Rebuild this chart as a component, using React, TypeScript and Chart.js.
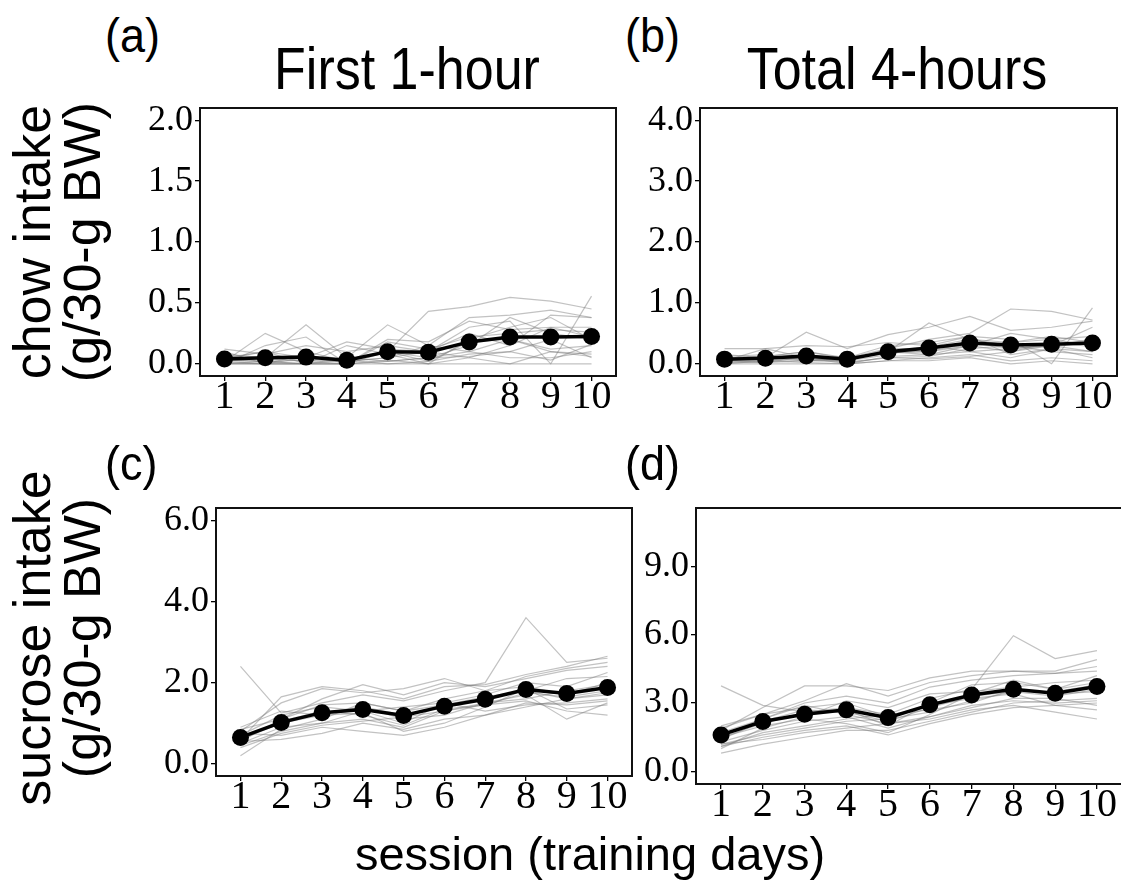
import React, { useEffect, useRef } from "react";
import { Chart, registerables } from "chart.js";

Chart.register(...registerables);

// ---------- data ----------
const SESSIONS = [1, 2, 3, 4, 5, 6, 7, 8, 9, 10];

const A_TICKS = [0, 0.5, 1.0, 1.5, 2.0];
const B_TICKS = [0, 1, 2, 3, 4];
const C_TICKS = [0, 2, 4, 6];
const D_TICKS = [0, 3, 6, 9];

// (a) chow intake, first 1-hour
const A_MEAN = [0.04, 0.05, 0.055, 0.03, 0.1, 0.095, 0.18, 0.22, 0.22, 0.225];
const A_INDIV = [
  [0.05, 0.1, 0.05, 0.02, 0.1, 0.43, 0.47, 0.545, 0.515, 0.45],
  [0.02, 0.25, 0.1, 0.02, 0.05, 0.1, 0.3, 0.35, 0.0, 0.556],
  [0.08, 0.05, 0.32, 0.05, 0.32, 0.15, 0.38, 0.4, 0.44, 0.38],
  [0.03, 0.02, 0.0, 0.15, 0.08, 0.0, 0.2, 0.3, 0.38, 0.2],
  [0.0, 0.15, 0.22, 0.0, 0.2, 0.18, 0.35, 0.28, 0.3, 0.3],
  [0.1, 0.0, 0.05, 0.18, 0.12, 0.1, 0.05, 0.0, 0.1, 0.08],
  [0.05, 0.05, 0.02, 0.0, 0.02, 0.05, 0.15, 0.38, 0.25, 0.2],
  [0.0, 0.0, 0.0, 0.0, 0.0, 0.0, 0.0, 0.0, 0.0, 0.0],
  [0.12, 0.08, 0.15, 0.1, 0.15, 0.1, 0.25, 0.15, 0.3, 0.22],
  [0.02, 0.0, 0.0, 0.05, 0.02, 0.05, 0.1, 0.2, 0.12, 0.15],
  [0.0, 0.02, 0.0, 0.0, 0.1, 0.02, 0.08, 0.1, 0.2, 0.05],
  [0.07, 0.03, 0.05, 0.02, 0.05, 0.15, 0.1, 0.05, 0.05, 0.1],
  [0.01, 0.0, 0.08, 0.0, 0.18, 0.12, 0.22, 0.25, 0.28, 0.26],
  [0.04, 0.1, 0.0, 0.03, 0.0, 0.02, 0.18, 0.2, 0.1, 0.06],
  [0.0, 0.0, 0.0, 0.0, 0.03, 0.0, 0.05, 0.15, 0.4, 0.38],
  [0.03, 0.02, 0.03, 0.02, 0.1, 0.05, 0.06, 0.1, 0.03, 0.16],
];

// (b) chow intake, total 4-hours
const B_MEAN = [0.077, 0.093, 0.13, 0.077, 0.2, 0.26, 0.34, 0.31, 0.32, 0.34];
const B_INDIV = [
  [0.1, 0.12, 0.2, 0.1, 0.25, 0.4, 0.5, 0.9, 0.86, 0.72],
  [0.05, 0.25, 0.1, 0.05, 0.15, 0.3, 0.45, 0.4, 0.0, 0.92],
  [0.15, 0.1, 0.52, 0.25, 0.48, 0.6, 0.78, 0.55, 0.6, 0.7],
  [0.05, 0.05, 0.05, 0.08, 0.2, 0.67, 0.4, 0.35, 0.45, 0.35],
  [0.25, 0.25, 0.3, 0.28, 0.35, 0.3, 0.2, 0.1, 0.25, 0.2],
  [0.02, 0.05, 0.1, 0.0, 0.12, 0.15, 0.3, 0.5, 0.4, 0.3],
  [0.0, 0.0, 0.0, 0.0, 0.05, 0.05, 0.1, 0.0, 0.05, 0.0],
  [0.1, 0.08, 0.15, 0.1, 0.2, 0.2, 0.35, 0.25, 0.3, 0.4],
  [0.08, 0.1, 0.08, 0.05, 0.25, 0.25, 0.3, 0.2, 0.35, 0.28],
  [0.05, 0.02, 0.12, 0.02, 0.1, 0.12, 0.25, 0.3, 0.2, 0.15],
  [0.12, 0.15, 0.05, 0.1, 0.3, 0.35, 0.45, 0.15, 0.25, 0.1],
  [0.0, 0.05, 0.02, 0.0, 0.05, 0.1, 0.15, 0.05, 0.1, 0.05],
  [0.1, 0.12, 0.2, 0.08, 0.18, 0.2, 0.3, 0.35, 0.4, 0.45],
  [0.06, 0.1, 0.15, 0.05, 0.22, 0.28, 0.4, 0.3, 0.28, 0.35],
  [0.03, 0.02, 0.05, 0.03, 0.1, 0.08, 0.12, 0.2, 0.3, 0.6],
  [0.08, 0.1, 0.05, 0.07, 0.2, 0.15, 0.2, 0.25, 0.3, 0.2],
];

// (c) sucrose intake, first 1-hour
const C_MEAN = [0.65, 1.02, 1.26, 1.34, 1.19, 1.42, 1.59, 1.83, 1.73, 1.88];
const C_INDIV = [
  [2.4, 1.25, 1.5, 1.7, 1.55, 1.8, 2.0, 3.6, 2.5, 2.6],
  [0.6, 1.65, 1.9, 1.8, 1.6, 1.9, 1.95, 2.2, 2.4, 2.65],
  [0.8, 1.5, 1.85, 1.75, 1.85, 2.1, 1.8, 2.15, 2.35, 2.5],
  [0.55, 1.1, 1.6, 1.95, 1.7, 2.0, 1.9, 2.1, 2.3, 2.4],
  [0.7, 1.2, 1.4, 1.3, 1.0, 1.5, 1.7, 2.0, 1.9, 2.25],
  [0.2, 0.85, 1.1, 1.5, 1.3, 1.6, 1.8, 1.9, 1.7, 2.0],
  [0.5, 0.9, 1.0, 1.1, 0.9, 1.3, 1.5, 1.6, 1.8, 1.95],
  [0.65, 1.0, 1.25, 1.4, 1.2, 1.4, 1.6, 1.8, 2.1, 2.15],
  [0.75, 0.7, 0.9, 0.8, 0.7, 0.9, 1.2, 1.5, 1.45, 1.55],
  [0.55, 0.6, 0.75, 1.0, 0.85, 1.1, 1.2, 1.4, 1.6, 1.75],
  [0.9, 1.3, 1.2, 1.4, 1.1, 1.2, 1.5, 1.7, 1.1, 1.5],
  [0.6, 1.05, 1.3, 1.2, 0.95, 1.35, 1.45, 1.55, 1.3, 1.2],
  [0.45, 0.8, 1.0, 1.3, 1.4, 1.5, 1.3, 1.45, 1.5, 1.6],
  [0.85, 1.1, 1.45, 1.5, 1.3, 1.45, 1.65, 1.8, 1.6, 1.7],
  [0.6, 1.0, 1.2, 1.25, 0.8, 1.0, 1.4, 1.85, 1.35, 1.45],
  [0.4, 0.75, 0.95, 1.05, 1.15, 1.3, 1.45, 1.75, 1.65, 1.8],
];

// (d) sucrose intake, total 4-hours
const D_MEAN = [1.6, 2.19, 2.51, 2.7, 2.36, 2.92, 3.35, 3.6, 3.43, 3.72];
const D_INDIV = [
  [3.75, 2.9, 2.6, 2.8, 2.5, 3.2, 3.6, 5.95, 4.95, 5.3],
  [1.8, 2.8, 3.75, 3.75, 3.55, 4.1, 4.4, 4.4, 4.4, 4.9],
  [2.0, 2.5, 3.1, 3.85, 3.3, 3.9, 4.2, 4.4, 4.3, 4.6],
  [1.6, 2.3, 3.0, 3.3, 3.0, 3.7, 4.0, 4.2, 4.3, 4.4],
  [1.5, 2.1, 2.6, 2.7, 2.0, 3.0, 3.8, 3.9, 3.6, 4.2],
  [1.0, 1.9, 2.4, 3.1, 2.8, 3.4, 3.5, 3.7, 3.9, 4.0],
  [1.2, 1.6, 1.9, 2.2, 2.3, 2.6, 3.1, 3.5, 3.5, 3.8],
  [1.4, 2.2, 2.7, 2.6, 2.2, 2.8, 3.3, 3.5, 3.3, 3.6],
  [0.8, 1.2, 1.5, 1.8, 1.8, 2.2, 2.6, 3.0, 3.1, 3.2],
  [1.1, 1.5, 1.8, 2.0, 1.6, 2.1, 2.5, 2.8, 2.9, 3.0],
  [1.9, 2.5, 2.8, 3.0, 2.4, 2.9, 3.2, 3.4, 2.9, 2.7],
  [1.3, 1.8, 2.2, 2.4, 1.9, 2.4, 2.8, 3.2, 3.2, 2.9],
  [1.7, 2.3, 2.9, 2.5, 2.1, 2.3, 2.7, 2.9, 2.6, 2.3],
  [1.1, 1.7, 2.0, 2.3, 2.5, 2.7, 3.0, 3.6, 3.4, 3.5],
  [1.5, 2.0, 2.3, 2.1, 1.7, 2.5, 3.4, 4.0, 3.6, 3.9],
  [1.2, 1.4, 1.7, 1.9, 2.1, 2.4, 2.9, 3.1, 3.0, 3.1],
];

// ---------- layout ----------
const SANS = '"Liberation Sans", Arial, Helvetica, sans-serif';
const SERIF = '"Liberation Serif", "Times New Roman", serif';

const PAD_L = 90;
const PAD_T = 30;
const PAD_R = 20;
const PAD_B = 56;

type PanelSpec = {
  box: [number, number, number, number];
  yMin: number;
  yMax: number;
  yTicks: number[];
  mean: number[];
  indiv: number[][];
};

const PANELS: PanelSpec[] = [
  { box: [200, 108, 616, 376], yMin: -0.1, yMax: 2.1, yTicks: A_TICKS, mean: A_MEAN, indiv: A_INDIV },
  { box: [700, 108, 1117, 376], yMin: -0.2, yMax: 4.2, yTicks: B_TICKS, mean: B_MEAN, indiv: B_INDIV },
  { box: [216, 508, 632, 776], yMin: -0.3, yMax: 6.3, yTicks: C_TICKS, mean: C_MEAN, indiv: C_INDIV },
  { box: [696, 508, 1122, 784], yMin: -0.55, yMax: 11.55, yTicks: D_TICKS, mean: D_MEAN, indiv: D_INDIV },
];

const boxPlugin = {
  id: "panelBox",
  afterDraw(chart: any) {
    const { ctx, chartArea } = chart;
    ctx.save();
    ctx.strokeStyle = "#111";
    ctx.lineWidth = 2;
    ctx.strokeRect(chartArea.left, chartArea.top, chartArea.right - chartArea.left, chartArea.bottom - chartArea.top);
    ctx.restore();
  },
};

function Panel({ spec }: { spec: PanelSpec }) {
  const ref = useRef<HTMLCanvasElement>(null);
  const [L, T, R, B] = spec.box;
  const w = R - L + PAD_L + PAD_R;
  const h = B - T + PAD_T + PAD_B;

  useEffect(() => {
    if (!ref.current) return;
    const toPts = (arr: number[]) => SESSIONS.map((s, i) => ({ x: s, y: arr[i] }));
    const datasets: any[] = [
      {
        data: toPts(spec.mean),
        borderColor: "#000",
        backgroundColor: "#000",
        borderWidth: 3.5,
        pointRadius: 8.5,
        pointBackgroundColor: "#000",
        pointBorderColor: "#000",
        pointBorderWidth: 0,
        order: 0,
      },
      ...spec.indiv.map((arr) => ({
        data: toPts(arr),
        borderColor: "rgba(120,120,120,0.45)",
        borderWidth: 1.2,
        pointRadius: 0,
        order: 1,
      })),
    ];
    const tickGrid = {
      display: true,
      drawOnChartArea: false,
      drawTicks: true,
      tickLength: 5,
      color: "#000",
      lineWidth: 1.3,
    };
    const chart = new Chart(ref.current, {
      type: "line",
      data: { datasets },
      options: {
        responsive: false,
        animation: false,
        devicePixelRatio: 1,
        events: [],
        layout: { padding: { left: 0, top: PAD_T, right: PAD_R, bottom: 0 } },
        plugins: { legend: { display: false }, tooltip: { enabled: false } },
        scales: {
          x: {
            type: "linear",
            min: 0.4,
            max: 10.6,
            afterBuildTicks: (s: any) => {
              s.ticks = SESSIONS.map((v) => ({ value: v }));
            },
            afterFit: (s: any) => {
              s.height = PAD_B;
            },
            ticks: {
              autoSkip: false,
              maxRotation: 0,
              minRotation: 0,
              padding: -8,
              color: "#000",
              font: { family: SERIF, size: 40 },
              callback: (v: any) => String(v),
            },
            grid: tickGrid,
            border: { display: false },
          },
          y: {
            type: "linear",
            min: spec.yMin,
            max: spec.yMax,
            afterBuildTicks: (s: any) => {
              s.ticks = spec.yTicks.map((v) => ({ value: v }));
            },
            afterFit: (s: any) => {
              s.width = PAD_L;
            },
            ticks: {
              padding: 2,
              color: "#000",
              font: { family: SERIF, size: 36 },
              callback: (v: any) => Number(v).toFixed(1),
            },
            grid: tickGrid,
            border: { display: false },
          },
        },
      } as any,
      plugins: [boxPlugin],
    });
    return () => chart.destroy();
  }, []);

  return (
    <canvas
      ref={ref}
      width={w}
      height={h}
      style={{ position: "absolute", left: L - PAD_L, top: T - PAD_T, width: w, height: h }}
    />
  );
}

function Text({
  text,
  left,
  top,
  size,
  sy = 1,
  center = false,
}: {
  text: string;
  left: number;
  top: number;
  size: number;
  sy?: number;
  center?: boolean;
}) {
  const style: React.CSSProperties = {
    position: "absolute",
    top,
    fontFamily: SANS,
    fontSize: size,
    lineHeight: 1,
    whiteSpace: "nowrap",
    color: "#000",
    transform: `scaleY(${sy})`,
    transformOrigin: "top center",
  };
  if (center) {
    style.left = left - 400;
    style.width = 800;
    style.textAlign = "center";
  } else {
    style.left = left;
  }
  return <div style={style}>{text}</div>;
}

function YTitle({ lines, cx, cy }: { lines: string[]; cx: number; cy: number }) {
  return (
    <div
      style={{
        position: "absolute",
        left: cx - 250,
        top: cy - 50,
        width: 500,
        height: 100,
        transform: "rotate(-90deg)",
        transformOrigin: "center center",
        fontFamily: SANS,
        fontSize: 52,
        lineHeight: "50px",
        textAlign: "center",
        whiteSpace: "nowrap",
        color: "#000",
      }}
    >
      {lines.map((l, i) => (
        <div key={i}>{l}</div>
      ))}
    </div>
  );
}

export default function App() {
  return (
    <div
      style={{
        position: "fixed",
        left: 0,
        top: 0,
        width: 1121,
        height: 885,
        overflow: "hidden",
        background: "#fff",
      }}
    >
      {PANELS.map((p, i) => (
        <Panel key={i} spec={p} />
      ))}
      <Text text="(a)" left={105} top={12} size={45} sy={1.05} />
      <Text text="(b)" left={625} top={12} size={45} sy={1.05} />
      <Text text="(c)" left={105} top={440} size={45} sy={1.05} />
      <Text text="(d)" left={625} top={440} size={45} sy={1.05} />
      <Text text="First 1-hour" left={407} top={38} size={52} sy={1.15} center />
      <Text text="Total 4-hours" left={897} top={38} size={52} sy={1.15} center />
      <Text text="session (training days)" left={590} top={830} size={47} center />
      <YTitle lines={["chow intake", "(g/30-g BW)"]} cx={57} cy={242} />
      <YTitle lines={["sucrose intake", "(g/30-g BW)"]} cx={57} cy={638} />
    </div>
  );
}
